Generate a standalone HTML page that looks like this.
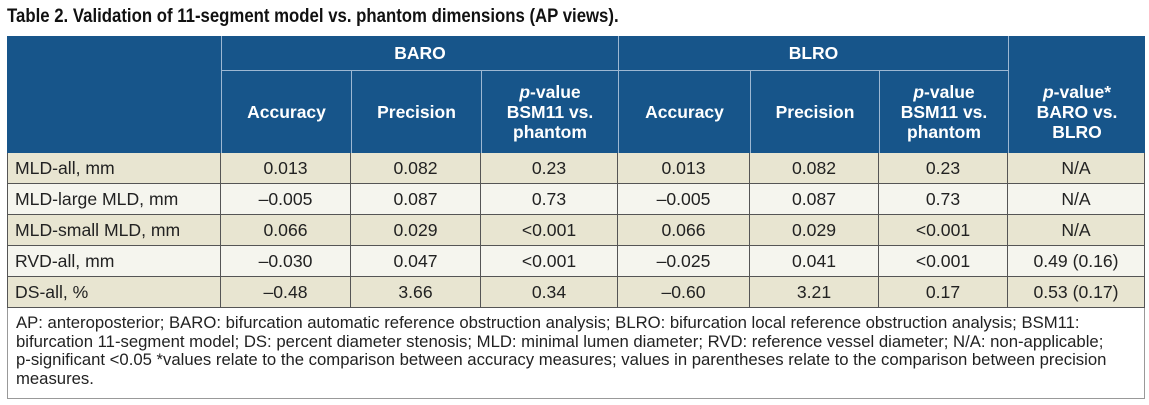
<!DOCTYPE html>
<html><head><style>
body{margin:0;width:1149px;height:405px;background:#fff;font-family:"Liberation Sans",sans-serif;position:relative;overflow:hidden}
.t{position:absolute;left:7px;top:5px;font-weight:bold;font-size:19.5px;color:#111;transform:scaleX(0.86);transform-origin:left;white-space:nowrap}
.b{position:absolute;box-sizing:border-box;display:flex;align-items:center;justify-content:center;text-align:center}
.h{background:#17558a;color:#fff;font-weight:bold;font-size:17.5px;line-height:20px}
.c{font-size:17.6px;color:#222;border-bottom:1px solid #555;border-right:1px solid #555}
.l{justify-content:flex-start;padding-left:7px}
.o{background:#e8e5d1}.e{background:#f5f5ee}
.fn{position:absolute;left:7px;top:308px;width:1138px;height:91px;box-sizing:border-box;border:1px solid #999;border-top:none;padding:6px 8px;font-size:16.7px;line-height:18.7px;color:#222;white-space:nowrap}
</style></head><body>
<div class="t">Table 2. Validation of 11-segment model vs. phantom dimensions (AP views).</div>
<div class="b h" style="left:7px;top:36px;width:1138px;height:117px"></div>
<div class="b h" style="left:222px;top:36px;width:396px;height:34px">BARO</div>
<div class="b h" style="left:619px;top:36px;width:389px;height:34px">BLRO</div>
<div style="position:absolute;left:221px;top:36px;width:1px;height:117px;background:#9db8d3"></div>
<div style="position:absolute;left:618px;top:36px;width:1px;height:117px;background:#9db8d3"></div>
<div style="position:absolute;left:1008px;top:36px;width:1px;height:117px;background:#9db8d3"></div>
<div style="position:absolute;left:221px;top:70px;width:787px;height:1px;background:#9db8d3"></div>
<div style="position:absolute;left:351px;top:70px;width:1px;height:83px;background:#9db8d3"></div>
<div style="position:absolute;left:481px;top:70px;width:1px;height:83px;background:#9db8d3"></div>
<div style="position:absolute;left:750px;top:70px;width:1px;height:83px;background:#9db8d3"></div>
<div style="position:absolute;left:879px;top:70px;width:1px;height:83px;background:#9db8d3"></div>
<div class="b h" style="left:222px;top:71px;width:129px;height:82px">Accuracy</div>
<div class="b h" style="left:352px;top:71px;width:129px;height:82px">Precision</div>
<div class="b h" style="left:482px;top:71px;width:136px;height:82px"><span><i>p</i>-value<br>BSM11 vs.<br>phantom</span></div>
<div class="b h" style="left:619px;top:71px;width:131px;height:82px">Accuracy</div>
<div class="b h" style="left:751px;top:71px;width:128px;height:82px">Precision</div>
<div class="b h" style="left:880px;top:71px;width:128px;height:82px"><span><i>p</i>-value<br>BSM11 vs.<br>phantom</span></div>
<div class="b h" style="left:1009px;top:36px;width:136px;height:117px;padding-top:34px"><span><i>p</i>-value*<br>BARO vs.<br>BLRO</span></div>
<div id="rows"></div>
<script>
var xs=[7,221,351,481,618,750,879,1008,1145];
var d=[["MLD-all, mm","0.013","0.082","0.23","0.013","0.082","0.23","N/A"],
["MLD-large MLD, mm","–0.005","0.087","0.73","–0.005","0.087","0.73","N/A"],
["MLD-small MLD, mm","0.066","0.029","&lt;0.001","0.066","0.029","&lt;0.001","N/A"],
["RVD-all, mm","–0.030","0.047","&lt;0.001","–0.025","0.041","&lt;0.001","0.49 (0.16)"],
["DS-all, %","–0.48","3.66","0.34","–0.60","3.21","0.17","0.53 (0.17)"]];
var h="";
for(var r=0;r<5;r++){var y=153+r*31;
for(var c=0;c<8;c++){h+='<div class="b c '+(r%2?'e':'o')+(c==0?' l':'')+'" style="left:'+xs[c]+'px;top:'+y+'px;width:'+(xs[c+1]-xs[c])+'px;height:31px;'+(c==0?'border-left:1px solid #555;':'')+'">'+d[r][c]+'</div>';}}
document.getElementById("rows").innerHTML=h;
</script>
<div class="fn">AP: anteroposterior; BARO: bifurcation automatic reference obstruction analysis; BLRO: bifurcation local reference obstruction analysis; BSM11:<br>bifurcation 11-segment model; DS: percent diameter stenosis; MLD: minimal lumen diameter; RVD: reference vessel diameter; N/A: non-applicable;<br>p-significant &lt;0.05 *values relate to the comparison between accuracy measures; values in parentheses relate to the comparison between precision<br>measures.</div>
</body></html>
